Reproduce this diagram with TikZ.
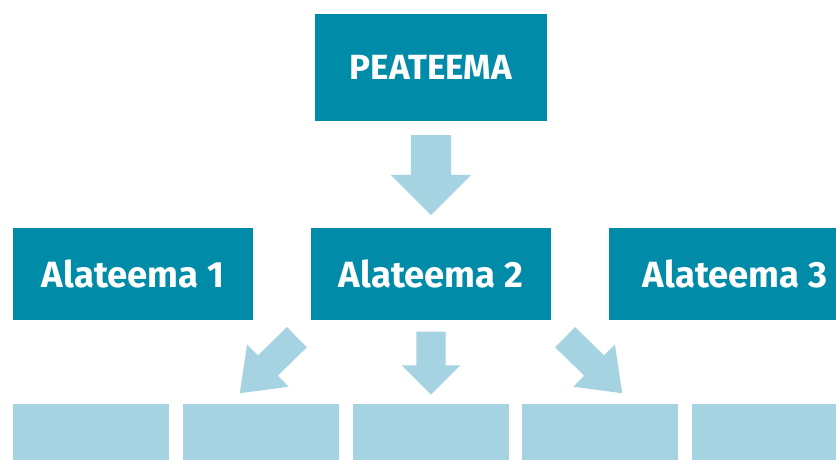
\documentclass[tikz,border=0pt]{standalone}
\usepackage{fontspec}
\setmainfont{Fira Sans}
\usepackage{xcolor}
\usepackage{tikz}
\usetikzlibrary{shapes.arrows}
\definecolor{teema}{HTML}{008CA8}
\definecolor{kast}{HTML}{A5D3E1}

\begin{document}
\begin{tikzpicture}[x=1pt,y=-1pt,
  theme/.style={fill=teema,text=white,minimum width=240pt,minimum height=92pt,inner sep=0pt,font=\fontsize{36.5}{40}\selectfont\bfseries},
  leaf/.style={fill=kast,minimum width=156pt,minimum height=60pt,inner sep=0pt},
  blockarrow/.style={single arrow,fill=kast,inner sep=0pt,sloped,allow upside down,anchor=tail,single arrow tip angle=90}]
\clip (0,0) rectangle (836,459);
\node[theme,minimum width=232pt,minimum height=107pt,font=\fontsize{35}{40}\selectfont\bfseries] (P) at (431,67.5) {PEATEEMA};
\node[theme] (A1) at (133,273.5) {Alateema 1};
\node[theme] (A2) at (431,273.5) {Alateema 2};
\node[theme,minimum width=252pt] (A3) at (735,273.5) {Alateema 3};
\node[leaf] (L1) at (91,434) {};
\node[leaf] (L2) at (261,434) {};
\node[leaf] (L3) at (431,434) {};
\node[leaf] (L4) at (600,434) {};
\node[leaf] (L5) at (770,434) {};
\coordinate (d1) at (297,337);
\coordinate (d2) at (240,393);
\coordinate (d3) at (565,337);
\coordinate (d4) at (622,393);
\path (P.south) -- node[blockarrow,pos=0.13,minimum height=80pt,inner ysep=20pt,single arrow head extend=20pt] {} (A2.north);
\path (A2.south) -- node[blockarrow,pos=0.14,minimum height=63pt,inner ysep=14.5pt,single arrow head extend=14.5pt] {} (L3.north);
\path (d1) -- node[blockarrow,pos=0,minimum height=80pt,inner ysep=14pt,single arrow head extend=15.5pt,single arrow tip angle=74] {} (d2);
\path (d3) -- node[blockarrow,pos=0,minimum height=80pt,inner ysep=14pt,single arrow head extend=15.5pt,single arrow tip angle=74] {} (d4);
\end{tikzpicture}
\end{document}
